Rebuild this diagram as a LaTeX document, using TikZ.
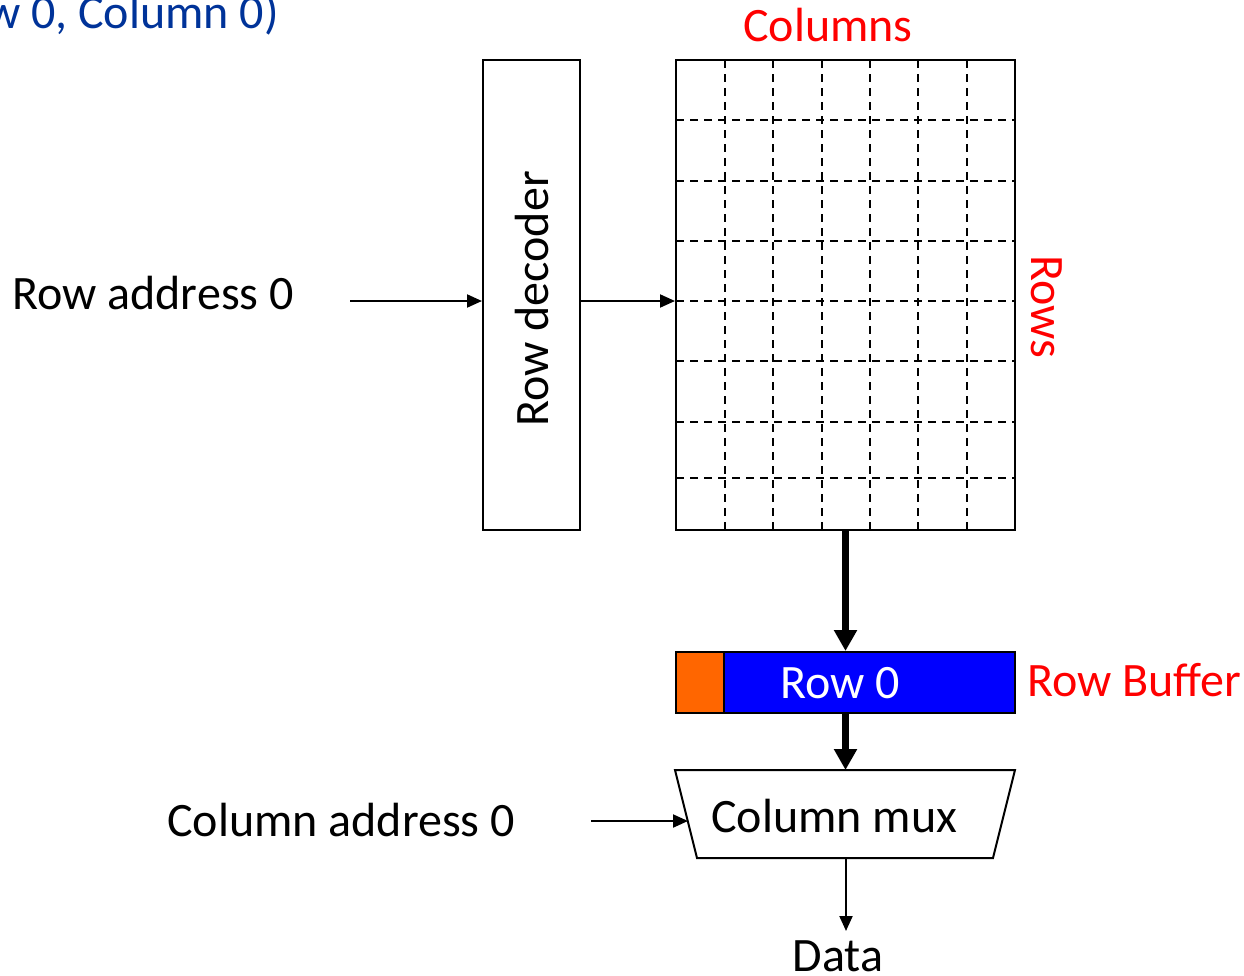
\documentclass[tikz,border=0pt]{standalone}
\usepackage{fontspec}
\setmainfont{Carlito}
\usetikzlibrary{arrows.meta}
\definecolor{titleblue}{RGB}{0,51,153}
\definecolor{bufblue}{RGB}{0,0,255}
\definecolor{buforange}{RGB}{255,102,0}
\definecolor{lblred}{RGB}{255,0,0}
\begin{document}
\begin{tikzpicture}[x=1pt,y=-1pt,
  txt/.style={font=\fontsize{48}{57}\selectfont, inner sep=0pt},
  box/.style={draw, line width=2pt, inner sep=0pt},
  thinarrow/.style={line width=2pt, -{Triangle[length=15pt,width=13pt]}},
  thickarrow/.style={line width=7pt, -{Triangle[length=21pt,width=22pt]}},
  gridline/.style={line width=2.3pt, dash pattern=on 8pt off 6pt}]
\clip (0,0) rectangle (1244,975);
\useasboundingbox (0,0) rectangle (1244,975);

% title (clipped at the left)
\node[txt, text=titleblue, anchor=base east] (title) at (279,28) {(Row 0, Column 0)};

% row decoder
\node[box, minimum width=97pt, minimum height=470pt] (dec) at (531.5,295) {};
\node[txt, rotate=90] (declbl) at (531.5,299) {Row decoder};

% cell array
\foreach \x in {725,773,822,870,918,967} \draw[gridline] (\x,60) -- (\x,530);
\foreach \y in {120,181,241,301,361,422,478} \draw[gridline] (676,\y) -- (1015,\y);
\node[box, minimum width=339pt, minimum height=470pt] (grid) at (845.5,295) {};
\node[txt, text=lblred, anchor=base] (cols) at (828,41) {Columns};
\node[txt, text=lblred, rotate=-90] (rows) at (1047,307) {Rows};

% row buffer
\node[box, fill=bufblue, minimum width=339pt, minimum height=61pt] (buf) at (845.5,682.5) {};
\node[box, fill=buforange, minimum width=48pt, minimum height=61pt] (bufhit) at (700,682.5) {};
\node[txt, text=white, anchor=base] (buflbl) at (840,698) {Row 0};
\node[txt, text=lblred, anchor=base west] (bufname) at (1027,696) {Row Buffer};

% column mux
\coordinate (m1) at (675,770);
\coordinate (m2) at (1015,770);
\coordinate (m3) at (993,858);
\coordinate (m4) at (697,858);
\draw[line width=2pt, line join=miter] (m1) -- (m2) -- (m3) -- (m4) -- cycle;
\coordinate (muxtop) at (846,770);
\coordinate (muxin) at (688,821);
\coordinate (muxbot) at (846,858);
\node[txt, anchor=base west] (muxlbl) at (711,832) {Column mux};

% addresses and data
\node[txt, anchor=base west] (rowaddr) at (12,309) {Row address 0};
\node[txt, anchor=base west] (coladdr) at (167,836) {Column address 0};
\node[txt, anchor=base] (data) at (838,971) {Data};
\coordinate (raout) at (350,301);
\coordinate (caout) at (591,821);
\coordinate (dataend) at (846,931);

% connectors
\draw[thinarrow] (raout) -- (raout -| dec.west);
\draw[thinarrow] (dec.east |- raout) -- (grid.west |- raout);
\draw[thickarrow] (grid.south) -- (buf.north);
\draw[thickarrow] (buf.south) -- (buf.south |- muxtop);
\draw[thinarrow] (caout) -- (muxin);
\draw[thinarrow] (muxbot) -- (dataend);
\end{tikzpicture}
\end{document}
